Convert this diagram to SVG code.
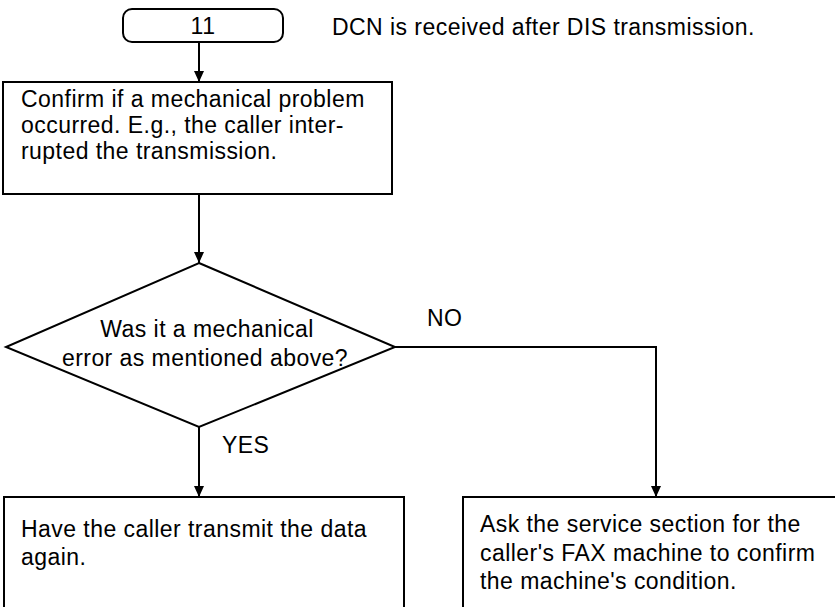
<svg xmlns="http://www.w3.org/2000/svg" width="835" height="607" viewBox="0 0 835 607">
<defs>
<marker id="ah" markerWidth="12" markerHeight="11" refX="11" refY="5" orient="auto" markerUnits="userSpaceOnUse">
<path d="M0,0 L11,5 L0,10 Z" fill="#000"/>
</marker>
<style>
.s{fill:#fff;stroke:#000;stroke-width:2}
.c{fill:none;stroke:#000;stroke-width:2}
text{font-family:"Liberation Sans",Arial,sans-serif;font-size:23px;letter-spacing:0.45px;fill:#000}
.m{text-anchor:middle}
</style>
</defs>
<rect width="835" height="607" fill="#fff"/>
<g id="connectors">
<line class="c" x1="199" y1="42" x2="199" y2="82" marker-end="url(#ah)"/>
<line class="c" x1="199" y1="194" x2="199" y2="263" marker-end="url(#ah)"/>
<line class="c" x1="199" y1="427" x2="199" y2="497" marker-end="url(#ah)"/>
<polyline class="c" points="395,347 656,347 656,497" marker-end="url(#ah)"/>
</g>
<g id="start">
<rect class="s" x="123" y="9" width="160" height="33" rx="9"/>
<text class="m" x="203" y="34">11</text>
</g>
<g id="note">
<text x="332" y="35">DCN is received after DIS transmission.</text>
</g>
<g id="confirm">
<rect class="s" x="3" y="82" width="389" height="112"/>
<text x="21" y="107">Confirm if a mechanical problem</text>
<text x="21" y="133">occurred. E.g., the caller inter-</text>
<text x="21" y="159">rupted the transmission.</text>
</g>
<g id="decision">
<polygon class="s" points="199,263 395,347 199,427 6,347"/>
<text class="m" x="207" y="337">Was it a mechanical</text>
<text class="m" x="205" y="366">error as mentioned above?</text>
</g>
<g id="labels">
<text x="427" y="326">NO</text>
<text x="222" y="453">YES</text>
</g>
<g id="retransmit">
<rect class="s" x="4" y="497" width="400" height="130"/>
<text x="21" y="537">Have the caller transmit the data</text>
<text x="21" y="565">again.</text>
</g>
<g id="service">
<rect class="s" x="463" y="497" width="400" height="130"/>
<text x="480" y="532">Ask the service section for the</text>
<text x="480" y="561">caller's FAX machine to confirm</text>
<text x="480" y="589">the machine's condition.</text>
</g>
</svg>
